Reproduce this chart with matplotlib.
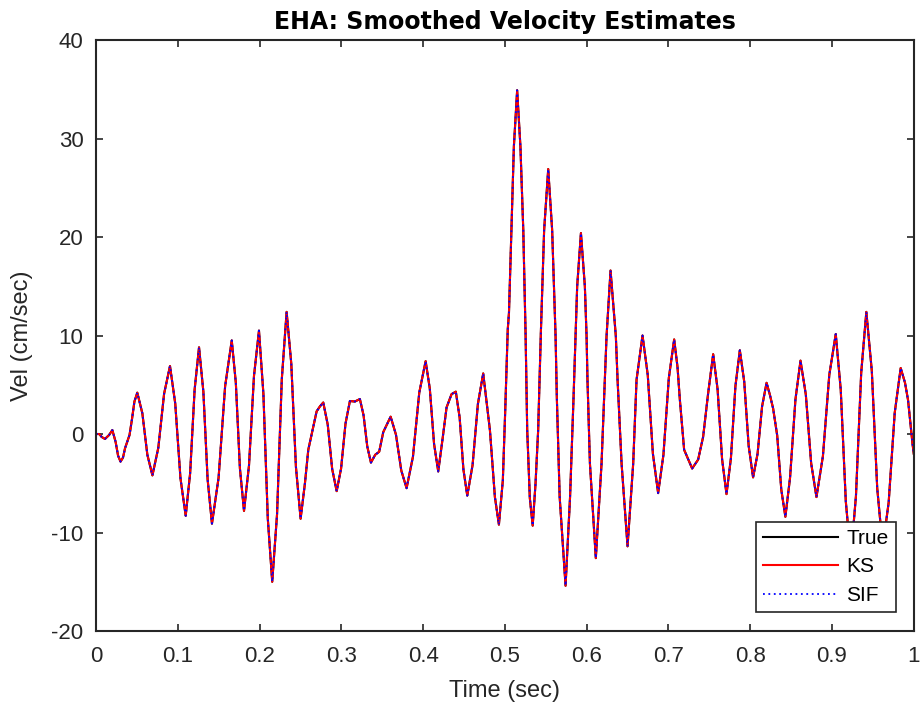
import matplotlib
matplotlib.use('Agg')
import matplotlib.pyplot as plt

# values (time in sec, velocity in cm/sec)
time_s = [
    0.000, 0.004, 0.007, 0.011, 0.016, 0.020, 0.024, 0.027, 0.030, 0.033,
    0.0355, 0.041, 0.044, 0.047, 0.0505, 0.0567, 0.0628, 0.069, 0.0762, 0.0833,
    0.0905, 0.0969, 0.1033, 0.1097, 0.1151, 0.1206, 0.126, 0.1313, 0.1365, 0.1418,
    0.1499, 0.1579, 0.166, 0.171, 0.176, 0.181, 0.1871, 0.1932, 0.1993, 0.2047,
    0.2101, 0.2155, 0.2214, 0.2272, 0.2331, 0.2388, 0.2445, 0.2502, 0.2555, 0.2596,
    0.2698, 0.2738, 0.2779, 0.2834, 0.2888, 0.2943, 0.2997, 0.3051, 0.3105, 0.3166,
    0.3227, 0.3272, 0.3317, 0.3362, 0.3415, 0.3463, 0.3513, 0.3603, 0.3668, 0.3733,
    0.3798, 0.3876, 0.3953, 0.4031, 0.4082, 0.4134, 0.4185, 0.4238, 0.4287, 0.4348,
    0.440, 0.4447, 0.4493, 0.454, 0.4605, 0.467, 0.4735, 0.4817, 0.4878, 0.4927,
    0.4975, 0.5003, 0.5035, 0.505, 0.508, 0.511, 0.515, 0.519, 0.5225, 0.5253,
    0.5273, 0.5305, 0.534, 0.5375, 0.5407, 0.544, 0.548, 0.553, 0.5578, 0.562,
    0.5635, 0.567, 0.5742, 0.5797, 0.584, 0.5864, 0.5884, 0.593, 0.5978, 0.5999,
    0.601, 0.604, 0.6112, 0.6182, 0.6222, 0.6243, 0.6292, 0.6357, 0.6378, 0.6427,
    0.650, 0.6569, 0.661, 0.6683, 0.6747, 0.681, 0.6874, 0.6939, 0.7005, 0.707,
    0.7111, 0.714, 0.7192, 0.729, 0.7363, 0.7424, 0.7485, 0.7547, 0.7601, 0.7656,
    0.771, 0.7764, 0.7819, 0.7873, 0.7927, 0.7981, 0.8035, 0.809, 0.8145, 0.820,
    0.824, 0.828, 0.833, 0.838, 0.843, 0.8487, 0.8553, 0.8615, 0.868, 0.8745,
    0.881, 0.8889, 0.8967, 0.9046, 0.9107, 0.9169, 0.923, 0.9293, 0.9357, 0.942,
    0.9487, 0.9553, 0.962, 0.9693, 0.9767, 0.984, 0.9893, 0.993, 0.9984, 1.000,
]
vel_true = [
    0.0, 0.0, -0.3, -0.5, -0.1, 0.4, -0.8, -2.2, -2.8, -2.4,
    -1.45, -0.1, 1.5, 3.3, 4.2, 2.1, -2.1, -4.2, -1.4, 4.1,
    6.9, 3.1, -4.5, -8.3, -4.0, 4.5, 8.8, 4.3, -4.6, -9.1,
    -4.45, 4.85, 9.5, 5.2, -3.5, -7.8, -3.2, 5.9, 10.5, 4.1,
    -8.6, -15.0, -8.15, 5.55, 12.4, 7.15, -3.35, -8.6, -5.0, -1.6,
    2.3, 2.8, 3.2, 0.95, -3.55, -5.8, -3.5, 1.05, 3.35, 3.3,
    3.55, 1.9, -1.25, -2.9, -2.1, -1.8, 0.2, 1.76, -0.06, -3.7,
    -5.5, -2.3, 4.2, 7.4, 4.6, -1.0, -3.8, -0.5, 2.7, 4.05,
    4.3, 1.66, -3.6, -6.25, -3.15, 3.05, 6.15, 0.4, -6.4, -9.2,
    -4.7, 2.1, 10.6, 12.3, 20.7, 29.2, 34.9, 29.2, 20.7, 10.2,
    0.4, -6.5, -9.3, -5.0, 0.4, 10.3, 20.7, 26.9, 20.7, 9.9,
    3.8, -6.4, -15.4, -6.4, 3.8, 9.9, 15.0, 20.4, 15.0, 9.9,
    5.5, -3.0, -12.6, -3.0, 5.5, 9.9, 16.6, 9.9, 5.5, -3.0,
    -11.4, -3.0, 5.5, 10.0, 6.0, -2.0, -6.0, -2.1, 5.7, 9.6,
    6.8, 3.45, -1.6, -3.5, -2.6, -0.3, 4.1, 8.1, 4.55, -2.55,
    -6.1, -2.45, 4.85, 8.5, 5.3, -1.2, -4.4, -2.0, 2.8, 5.2,
    4.0, 2.6, -0.15, -5.65, -8.4, -4.45, 3.5, 7.45, 4.0, -2.95,
    -6.4, -2.25, 6.0, 10.15, 4.5, -6.85, -12.5, -6.3, 6.2, 12.4,
    6.4, -5.5, -11.5, -6.95, 2.15, 6.7, 5.2, 3.45, -0.95, -2.0,
]
# the smoothed estimates sit right on top of the true signal
vel_ks = list(vel_true)
vel_sif = list(vel_true)

x_ticks = [0, 0.1, 0.2, 0.3, 0.4, 0.5, 0.6, 0.7, 0.8, 0.9, 1]
x_tick_labels = ['0', '0.1', '0.2', '0.3', '0.4', '0.5', '0.6', '0.7', '0.8', '0.9', '1']
y_ticks = [-20, -10, 0, 10, 20, 30, 40]

plt.rcParams['font.family'] = ['Liberation Sans', 'DejaVu Sans']
plt.rcParams['axes.unicode_minus'] = False
ink = '#262626'

fig = plt.figure(figsize=(9.23, 7.06), dpi=100)
ax = fig.add_axes([0.104, 0.1062, 0.886, 0.8371])

ax.plot(time_s, vel_true, color='black', lw=1.5, solid_joinstyle='round', label='True')
ax.plot(time_s, vel_ks, color='red', lw=1.5, solid_joinstyle='round', label='KS')
ax.plot(time_s, vel_sif, color='blue', lw=1.3, ls=(0, (1, 2)), label='SIF')

ax.set_xlim(0, 1)
ax.set_ylim(-20, 40)
ax.set_xticks(x_ticks)
ax.set_xticklabels(x_tick_labels)
ax.set_yticks(y_ticks)
ax.tick_params(direction='in', length=5, width=1.2, colors=ink, labelsize=16,
               top=True, right=True)
ax.tick_params(axis='x', pad=11)
ax.tick_params(axis='y', pad=9)
for s in ax.spines.values():
    s.set_linewidth(1.5)
    s.set_color(ink)

ax.set_xlabel('Time (sec)', fontsize=17, color=ink, labelpad=9)
ax.set_ylabel('Vel (cm/sec)', fontsize=17, color=ink, labelpad=13)
ax.set_title('EHA: Smoothed Velocity Estimates', fontsize=17, fontweight='bold',
             family=['DejaVu Sans'], color='black', pad=8)

leg = ax.legend(loc='lower right', bbox_to_anchor=(0.978, 0.032), fontsize=15,
                handlelength=3.6, labelspacing=0.45, borderpad=0.35,
                handletextpad=0.4, fancybox=False, framealpha=1, borderaxespad=0)
leg.get_frame().set_edgecolor(ink)
leg.get_frame().set_linewidth(1.2)
for t in leg.get_texts():
    t.set_color('black')

plt.savefig('out.png', dpi=100)
